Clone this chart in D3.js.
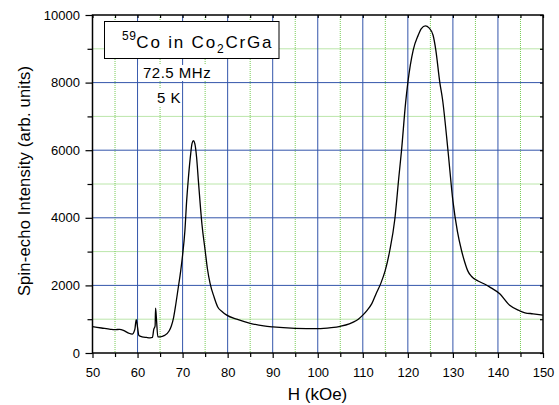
<!DOCTYPE html>
<html>
<head>
<meta charset="utf-8">
<script src="https://cdn.jsdelivr.net/npm/d3@7"></script>
<style>
  body { margin: 0; background: #fff; }
  text { font-family: "Liberation Sans", Arial, sans-serif; }
</style>
</head>
<body>
<div id="chart"></div>
<script>
// field values (kOe) and spin-echo intensity
const field = [50, 52, 54, 55, 56, 57, 58, 58.8, 59.4, 59.7, 60.0, 60.3, 61, 62, 62.8, 63.3, 63.6, 63.9, 64.0, 64.2, 64.5, 65, 66, 67, 67.5, 68, 68.5, 69, 69.6, 70, 70.5, 70.9, 71.3, 71.8, 72.1, 72.4, 72.7, 73.1, 73.5, 73.85, 74.3, 75, 75.5, 76.1, 77, 77.8, 78.8, 79.8, 82, 85, 88, 90, 95, 100, 103, 105, 107, 108, 109, 110, 111, 112, 113, 114, 115, 116, 117.1, 118, 118.6, 119.5, 120, 121.2, 122.3, 123, 123.9, 124.7, 125.6, 126.2, 127.1, 127.7, 128.9, 130, 131, 131.9, 132.6, 133.3, 134.1, 135.6, 137, 138.2, 140.4, 142.6, 144.8, 146, 147.8, 150];
const intensity = [780, 740, 700, 690, 700, 660, 590, 560, 700, 990, 760, 520, 480, 460, 450, 460, 700, 800, 1330, 1000, 480, 480, 520, 650, 800, 1050, 1450, 1900, 2450, 2900, 3600, 4500, 5200, 5900, 6200, 6280, 6200, 5800, 5100, 4500, 3800, 3040, 2500, 2060, 1650, 1360, 1220, 1120, 1000, 880, 800, 770, 730, 720, 750, 790, 860, 920, 1000, 1120, 1270, 1460, 1770, 2060, 2450, 3040, 3950, 5200, 6000, 7400, 8000, 8970, 9400, 9600, 9680, 9620, 9400, 8970, 8000, 7500, 6000, 4500, 3600, 3040, 2700, 2430, 2270, 2130, 2040, 1950, 1750, 1410, 1250, 1190, 1160, 1120];

const xMajor = [50, 60, 70, 80, 90, 100, 110, 120, 130, 140, 150];
const xMinor = [55, 65, 75, 85, 95, 105, 115, 125, 135, 145];
const yMajor = [0, 2000, 4000, 6000, 8000, 10000];
const yMinor = [1000, 3000, 5000, 7000, 9000];

const W = 559, H = 405;
const margin = {top: 15, right: 16, bottom: 52, left: 92.5},
    width = W - margin.left - margin.right,
    height = H - margin.top - margin.bottom;

const svg = d3.select("#chart").append("svg")
    .attr("width", W).attr("height", H);

const g = svg.append("g")
    .attr("transform", `translate(${margin.left},${margin.top})`);

const x = d3.scaleLinear().domain([50, 150]).range([0, width]);
const y = d3.scaleLinear().domain([0, 10000]).range([height, 0]);

// minor grid (green dotted)
g.append("g").selectAll("line").data(xMinor).join("line")
    .attr("x1", d => x(d)).attr("x2", d => x(d))
    .attr("y1", 0).attr("y2", height)
    .attr("stroke", "#77cc55").attr("stroke-width", 1)
    .attr("stroke-dasharray", "1,1");
g.append("g").selectAll("line").data(yMinor).join("line")
    .attr("y1", d => y(d)).attr("y2", d => y(d))
    .attr("x1", 0).attr("x2", width)
    .attr("stroke", "#77cc55").attr("stroke-width", 1)
    .attr("stroke-dasharray", "1,1");

// major grid (blue)
g.append("g").selectAll("line").data(xMajor.slice(1, -1)).join("line")
    .attr("x1", d => x(d)).attr("x2", d => x(d))
    .attr("y1", 0).attr("y2", height)
    .attr("stroke", "#3355aa").attr("stroke-width", 1);
g.append("g").selectAll("line").data(yMajor.slice(1, -1)).join("line")
    .attr("y1", d => y(d)).attr("y2", d => y(d))
    .attr("x1", 0).attr("x2", width)
    .attr("stroke", "#3355aa").attr("stroke-width", 1);

// curve
const pts = field.map((h, i) => [h, intensity[i]]);
g.append("path")
    .datum(pts)
    .attr("fill", "none")
    .attr("stroke", "#000")
    .attr("stroke-width", 1.3)
    .attr("d", d3.line().x(d => x(d[0])).y(d => y(d[1])).curve(d3.curveMonotoneX));

// axes
const axisStyle = sel => {
    sel.select(".domain").remove();
    sel.selectAll("line").attr("stroke", "#000").attr("stroke-width", 1.2);
    sel.selectAll("text").attr("font-size", 13).attr("fill", "#000")
        .style("font-family", "'Liberation Sans', Arial, sans-serif");
};

g.append("g").attr("transform", `translate(0,${height})`)
    .call(d3.axisBottom(x).tickValues(xMajor).tickSize(5).tickPadding(10).tickFormat(d3.format("d")))
    .call(axisStyle);
g.append("g").attr("transform", `translate(0,${height})`)
    .call(d3.axisBottom(x).tickValues(xMinor).tickSize(4).tickFormat(""))
    .call(axisStyle);
g.append("g")
    .call(d3.axisLeft(y).tickValues(yMajor).tickSize(7).tickPadding(5.5).tickFormat(d3.format("d")))
    .call(axisStyle);
g.append("g")
    .call(d3.axisLeft(y).tickValues(yMinor).tickSize(5).tickFormat(""))
    .call(axisStyle);
// inward ticks on top and right
g.append("g")
    .call(d3.axisBottom(x).tickValues(xMajor.concat(xMinor)).tickSize(3).tickFormat(""))
    .call(axisStyle);
g.append("g").attr("transform", `translate(${width},0)`)
    .call(d3.axisLeft(y).tickValues(yMajor.concat(yMinor)).tickSize(3).tickFormat(""))
    .call(axisStyle);

// frame
g.append("rect")
    .attr("width", width).attr("height", height)
    .attr("fill", "none").attr("stroke", "#000").attr("stroke-width", 1.5);

// axis titles
svg.append("text")
    .attr("x", 317.5).attr("y", 400)
    .attr("text-anchor", "middle").attr("font-size", 17)
    .text("H (kOe)");
svg.append("text")
    .attr("transform", `translate(30,181) rotate(-90)`)
    .attr("text-anchor", "middle").attr("font-size", 16.5).attr("letter-spacing", 0.2)
    .text("Spin-echo Intensity (arb. units)");

// title box
svg.append("rect")
    .attr("x", 104.5).attr("y", 21.5).attr("width", 174.5).attr("height", 37)
    .attr("fill", "#fff").attr("stroke", "#000").attr("stroke-width", 1);
const t = svg.append("text").attr("x", 122).attr("y", 47.5)
    .attr("font-size", 17).attr("letter-spacing", 1.8);
t.append("tspan").attr("font-size", 12).attr("letter-spacing", 0.5).attr("dy", -8).text("59");
t.append("tspan").attr("dy", 8).text("Co in Co");
t.append("tspan").attr("font-size", 12).attr("dy", 5).text("2");
t.append("tspan").attr("dy", -5).text("CrGa");

// frequency and temperature labels
svg.append("rect").attr("x", 138).attr("y", 65).attr("width", 75).attr("height", 16).attr("fill", "#fff");
svg.append("text").attr("x", 143).attr("y", 78).attr("font-size", 15).attr("letter-spacing", 0.5).text("72.5 MHz");
svg.append("rect").attr("x", 155).attr("y", 88).attr("width", 27).attr("height", 18).attr("fill", "#fff");
svg.append("text").attr("x", 157).attr("y", 103).attr("font-size", 15).attr("letter-spacing", 0.5).text("5 K");
</script>
</body>
</html>
